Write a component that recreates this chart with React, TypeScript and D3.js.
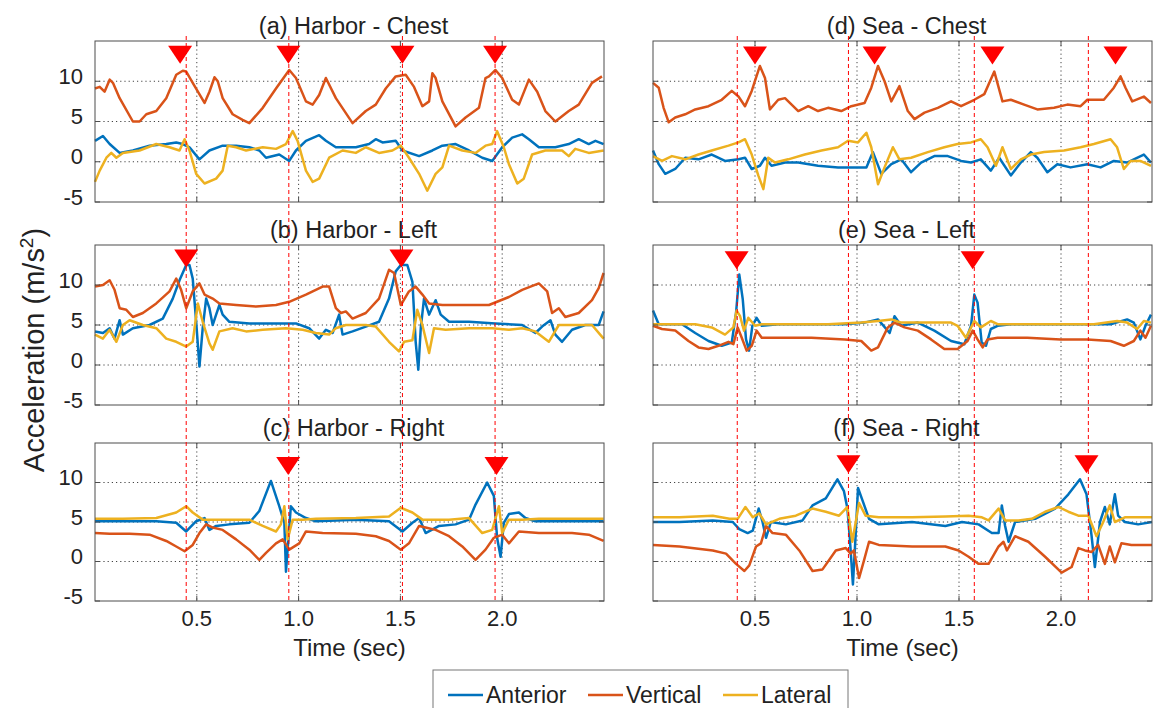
import React from 'react';
import * as d3 from 'd3';

type Pt = [number, number];

// series: [time (sec), acceleration (m/s^2)]
const harborChestAnterior: Pt[] = [[0,2.6],[0.039,3.2],[0.072,2.2],[0.121,1.1],[0.186,1.4],[0.268,2.0],[0.35,2.2],[0.399,2.4],[0.431,2.2],[0.464,1.8],[0.513,0.3],[0.562,1.4],[0.627,2.0],[0.693,2.0],[0.758,1.8],[0.807,1.4],[0.84,0.5],[0.905,0.9],[0.954,0.1],[0.987,1.4],[1.036,2.6],[1.101,3.3],[1.134,2.6],[1.183,1.8],[1.281,1.8],[1.346,2.2],[1.379,2.8],[1.412,2.4],[1.477,2.6],[1.51,1.4],[1.592,0.7],[1.657,1.4],[1.706,2.0],[1.771,2.2],[1.837,1.4],[1.902,0.5],[1.951,0.1],[2.0,1.8],[2.049,3.0],[2.098,3.4],[2.131,2.8],[2.18,1.8],[2.261,1.8],[2.327,2.2],[2.376,2.8],[2.425,2.2],[2.458,2.6],[2.498,2.2]];
const harborChestVertical: Pt[] = [[0,9.1],[0.023,9.3],[0.047,8.7],[0.072,10.2],[0.088,9.8],[0.121,7.9],[0.186,5.0],[0.219,5.0],[0.252,5.9],[0.301,6.3],[0.35,7.9],[0.399,10.8],[0.431,11.3],[0.448,11.2],[0.48,9.8],[0.538,7.3],[0.562,8.7],[0.587,10.5],[0.603,10.0],[0.627,7.9],[0.676,5.9],[0.725,5.2],[0.758,4.8],[0.824,6.7],[0.889,9.1],[0.954,11.4],[0.987,10.4],[1.036,7.5],[1.069,7.1],[1.101,8.3],[1.134,10.4],[1.183,7.9],[1.265,4.8],[1.33,6.3],[1.379,7.1],[1.428,9.1],[1.477,10.6],[1.526,10.8],[1.567,9.3],[1.608,6.9],[1.641,7.5],[1.657,11.0],[1.673,10.4],[1.706,7.5],[1.771,4.4],[1.82,5.5],[1.886,6.7],[1.918,10.4],[1.935,10.6],[1.967,11.4],[2.0,10.4],[2.049,7.7],[2.082,7.1],[2.131,10.2],[2.172,8.7],[2.212,6.3],[2.261,5.0],[2.327,6.3],[2.376,7.1],[2.441,9.8],[2.49,10.6]];
const harborChestLateral: Pt[] = [[0,-2.5],[0.023,-1.1],[0.056,0.5],[0.08,1.1],[0.105,0.5],[0.137,1.1],[0.219,1.4],[0.301,2.2],[0.366,1.8],[0.415,1.4],[0.44,2.8],[0.464,1.4],[0.497,-1.5],[0.538,-2.7],[0.595,-2.1],[0.627,-1.1],[0.652,2.0],[0.693,1.8],[0.742,1.4],[0.824,1.8],[0.889,1.6],[0.938,2.2],[0.971,3.8],[0.995,2.6],[1.036,-1.1],[1.069,-2.5],[1.101,-2.1],[1.15,0.5],[1.216,1.4],[1.281,1.1],[1.33,1.8],[1.395,1.1],[1.461,1.4],[1.502,2.0],[1.542,0.5],[1.592,-1.5],[1.632,-3.6],[1.673,-1.5],[1.706,-0.7],[1.739,2.0],[1.804,1.4],[1.869,1.1],[1.918,2.0],[1.951,2.2],[1.975,3.8],[2.008,1.8],[2.033,-0.3],[2.074,-2.7],[2.106,-2.1],[2.147,0.9],[2.212,1.4],[2.294,1.4],[2.327,0.7],[2.359,1.6],[2.425,1.1],[2.498,1.4]];

const harborLeftAnterior: Pt[] = [[0,4.2],[0.039,4.0],[0.072,4.6],[0.096,3.3],[0.121,5.6],[0.137,3.8],[0.186,4.6],[0.268,5.0],[0.333,5.8],[0.382,8.3],[0.415,10.6],[0.448,12.5],[0.464,12.5],[0.48,10.8],[0.497,5.4],[0.513,-0.2],[0.529,4.6],[0.546,8.3],[0.562,7.1],[0.578,5.0],[0.595,6.3],[0.611,7.5],[0.627,6.3],[0.66,5.4],[0.758,5.2],[0.889,5.2],[0.987,5.2],[1.052,4.6],[1.101,3.3],[1.134,4.4],[1.167,4.0],[1.199,6.3],[1.216,3.8],[1.265,4.2],[1.33,4.8],[1.395,5.4],[1.444,8.3],[1.477,11.7],[1.502,12.5],[1.534,12.5],[1.559,10.4],[1.575,2.9],[1.588,-0.6],[1.6,4.6],[1.616,8.3],[1.641,6.3],[1.673,8.1],[1.698,6.3],[1.739,5.4],[1.837,5.4],[1.967,5.2],[2.098,5.0],[2.163,4.0],[2.196,4.8],[2.237,5.6],[2.261,3.8],[2.294,2.9],[2.343,4.4],[2.408,5.0],[2.474,5.0],[2.498,6.7]];
const harborLeftVertical: Pt[] = [[0,9.8],[0.039,10.0],[0.072,10.6],[0.096,9.4],[0.121,7.1],[0.154,6.9],[0.186,6.0],[0.235,6.5],[0.301,7.7],[0.366,9.2],[0.399,10.8],[0.423,9.4],[0.448,7.1],[0.48,9.2],[0.513,10.2],[0.538,8.8],[0.578,8.3],[0.611,7.7],[0.693,7.5],[0.791,7.3],[0.889,7.5],[0.954,7.9],[1.036,8.8],[1.118,9.8],[1.15,9.8],[1.183,7.1],[1.208,6.5],[1.232,6.7],[1.265,5.8],[1.33,6.5],[1.395,8.3],[1.444,11.9],[1.469,11.5],[1.502,7.5],[1.542,9.2],[1.575,9.8],[1.608,8.8],[1.641,7.7],[1.706,7.5],[1.804,7.5],[1.935,7.5],[2.033,8.5],[2.098,9.4],[2.18,10.2],[2.221,9.2],[2.245,6.5],[2.278,7.1],[2.31,6.0],[2.376,6.5],[2.441,8.1],[2.474,9.6],[2.498,11.5]];
const harborLeftLateral: Pt[] = [[0,3.8],[0.039,3.3],[0.072,4.4],[0.105,2.9],[0.137,5.0],[0.17,5.6],[0.235,5.0],[0.301,4.6],[0.35,3.3],[0.399,2.9],[0.448,2.3],[0.48,2.9],[0.505,7.7],[0.529,5.4],[0.562,2.7],[0.578,1.9],[0.611,4.2],[0.676,4.6],[0.742,4.2],[0.824,4.4],[0.938,4.6],[1.02,4.4],[1.085,4.0],[1.15,3.8],[1.183,4.6],[1.232,5.0],[1.33,5.0],[1.379,4.8],[1.444,2.9],[1.493,1.7],[1.518,2.9],[1.559,3.1],[1.583,6.9],[1.608,5.0],[1.641,1.5],[1.665,4.6],[1.722,4.4],[1.837,4.6],[1.951,4.6],[2.033,4.4],[2.098,4.6],[2.163,4.2],[2.229,2.9],[2.278,5.0],[2.343,5.0],[2.441,5.0],[2.498,3.3]];

const harborRightAnterior: Pt[] = [[0,5.1],[0.137,5.1],[0.301,5.1],[0.399,4.9],[0.448,3.8],[0.497,5.1],[0.538,5.5],[0.562,4.0],[0.595,4.5],[0.66,4.7],[0.758,4.9],[0.807,6.4],[0.864,10.2],[0.905,7.0],[0.93,4.9],[0.938,-1.3],[0.951,3.2],[0.962,7.0],[0.987,6.2],[1.036,5.5],[1.085,5.1],[1.281,5.3],[1.444,5.1],[1.51,3.8],[1.559,4.9],[1.592,5.5],[1.624,3.6],[1.69,4.5],[1.771,4.7],[1.837,5.3],[1.869,7.2],[1.926,10.0],[1.959,8.3],[1.975,3.0],[1.992,0.6],[2.008,4.9],[2.033,6.0],[2.082,6.2],[2.114,5.5],[2.163,5.1],[2.343,5.1],[2.498,5.1]];
const harborRightVertical: Pt[] = [[0,3.6],[0.072,3.5],[0.17,3.5],[0.268,3.4],[0.35,2.6],[0.399,1.9],[0.44,1.3],[0.48,2.1],[0.513,3.6],[0.546,4.7],[0.578,4.3],[0.627,4.0],[0.693,2.8],[0.758,1.5],[0.807,0.2],[0.84,1.1],[0.889,2.3],[0.922,2.8],[0.954,1.5],[1.003,2.3],[1.036,3.8],[1.118,3.6],[1.281,3.5],[1.379,3.2],[1.444,2.6],[1.502,1.5],[1.542,2.3],[1.592,4.5],[1.624,4.3],[1.673,4.0],[1.739,3.2],[1.804,1.9],[1.869,0.2],[1.918,1.5],[1.959,3.0],[2.0,3.4],[2.033,2.3],[2.082,3.8],[2.18,3.6],[2.343,3.6],[2.425,3.4],[2.498,2.6]];
const harborRightLateral: Pt[] = [[0,5.4],[0.137,5.4],[0.301,5.5],[0.399,6.2],[0.448,7.0],[0.48,6.2],[0.529,5.3],[0.627,5.3],[0.758,5.3],[0.824,4.5],[0.889,3.8],[0.913,4.7],[0.93,7.0],[0.946,2.8],[0.971,5.3],[1.02,5.3],[1.085,5.4],[1.281,5.5],[1.444,5.7],[1.502,6.8],[1.559,6.2],[1.608,5.3],[1.739,5.3],[1.837,5.5],[1.902,3.6],[1.951,4.0],[1.984,7.0],[2.0,3.6],[2.033,5.3],[2.098,5.3],[2.18,5.4],[2.343,5.4],[2.498,5.4]];

const seaChestAnterior: Pt[] = [[0,1.4],[0.028,-0.3],[0.06,-1.5],[0.109,-0.9],[0.158,0.5],[0.223,0.3],[0.288,0.9],[0.353,0.1],[0.419,0.3],[0.451,0.5],[0.484,-0.9],[0.524,-0.5],[0.549,0.5],[0.581,-0.5],[0.647,-0.1],[0.712,-0.1],[0.809,-0.5],[0.907,-0.7],[0.989,-0.7],[1.046,-0.7],[1.078,1.2],[1.119,-1.5],[1.168,-0.3],[1.217,0.3],[1.265,-1.3],[1.314,-0.1],[1.379,0.7],[1.445,0.7],[1.51,0.1],[1.559,-0.1],[1.607,0.3],[1.656,-1.1],[1.697,0.5],[1.754,-1.7],[1.803,-0.1],[1.852,1.2],[1.884,0.5],[1.933,-1.3],[1.982,-0.3],[2.047,-0.7],[2.129,-0.3],[2.194,-0.7],[2.259,0.1],[2.324,-0.1],[2.357,0.3],[2.406,0.9],[2.441,-0.1]];
const seaChestVertical: Pt[] = [[0,9.8],[0.028,9.2],[0.052,6.7],[0.077,4.9],[0.109,5.5],[0.158,5.9],[0.207,6.5],[0.272,6.9],[0.337,7.7],[0.386,8.8],[0.419,8.1],[0.451,6.9],[0.484,8.8],[0.524,11.9],[0.549,10.4],[0.573,6.5],[0.614,7.7],[0.647,7.9],[0.712,6.3],[0.761,6.9],[0.809,6.3],[0.858,6.7],[0.923,6.3],[0.972,6.9],[1.037,7.3],[1.07,9.2],[1.103,11.9],[1.135,10.0],[1.168,7.5],[1.208,9.4],[1.249,6.3],[1.282,5.3],[1.331,6.1],[1.396,6.7],[1.461,7.5],[1.51,6.9],[1.575,7.7],[1.624,8.4],[1.673,11.2],[1.713,7.5],[1.754,7.7],[1.819,7.1],[1.884,6.5],[1.966,6.7],[2.031,7.1],[2.096,6.9],[2.129,7.7],[2.21,7.7],[2.259,9.2],[2.292,10.6],[2.316,9.2],[2.349,7.5],[2.406,8.1],[2.441,7.3]];
const seaChestLateral: Pt[] = [[0,0.7],[0.044,0.1],[0.093,0.7],[0.158,0.3],[0.223,0.9],[0.288,1.4],[0.37,2.0],[0.419,2.4],[0.451,2.8],[0.484,0.9],[0.516,-1.7],[0.541,-3.4],[0.565,0.5],[0.598,-0.1],[0.663,0.3],[0.744,0.9],[0.826,1.4],[0.907,1.8],[0.956,2.6],[1.005,2.4],[1.046,3.6],[1.07,1.8],[1.103,-2.8],[1.135,-0.7],[1.176,1.8],[1.208,0.3],[1.265,0.5],[1.347,1.2],[1.428,1.8],[1.493,2.2],[1.559,2.4],[1.607,2.8],[1.64,1.8],[1.681,-0.5],[1.713,1.8],[1.754,-0.9],[1.803,0.3],[1.852,0.9],[1.917,1.2],[2.015,1.4],[2.096,1.8],[2.161,2.2],[2.243,2.8],[2.275,1.8],[2.308,-0.9],[2.341,0.1],[2.389,0.1],[2.441,-0.5]];

const seaLeftAnterior: Pt[] = [[0,6.8],[0.028,5.1],[0.077,5.1],[0.142,5.1],[0.207,4.0],[0.272,3.0],[0.337,2.4],[0.386,2.8],[0.407,6.5],[0.423,11.3],[0.44,8.2],[0.456,3.2],[0.471,1.8],[0.487,4.9],[0.508,5.9],[0.533,4.9],[0.614,5.1],[0.777,5.1],[0.94,5.1],[1.037,5.3],[1.103,5.7],[1.16,4.0],[1.184,6.1],[1.217,4.9],[1.298,5.3],[1.379,4.3],[1.461,3.0],[1.526,2.6],[1.559,4.9],[1.575,8.8],[1.591,7.8],[1.611,2.8],[1.632,2.4],[1.656,4.5],[1.689,4.9],[1.754,5.1],[1.917,5.1],[2.08,5.1],[2.243,5.1],[2.324,5.7],[2.357,5.3],[2.389,3.2],[2.414,4.9],[2.441,6.3]];
const seaLeftVertical: Pt[] = [[0,4.9],[0.044,4.5],[0.109,4.3],[0.174,3.0],[0.223,2.2],[0.272,2.0],[0.321,2.4],[0.37,2.9],[0.394,2.6],[0.415,4.7],[0.435,3.4],[0.459,1.8],[0.484,2.4],[0.508,4.3],[0.533,3.4],[0.614,3.4],[0.777,3.4],[0.94,3.2],[1.021,3.0],[1.07,1.8],[1.103,2.2],[1.151,4.7],[1.184,5.3],[1.233,4.7],[1.298,4.3],[1.363,3.2],[1.428,2.0],[1.493,2.0],[1.542,3.0],[1.567,4.3],[1.591,3.2],[1.616,2.2],[1.64,3.2],[1.689,3.4],[1.835,3.4],[1.998,3.2],[2.129,3.2],[2.243,3.0],[2.308,2.4],[2.357,3.0],[2.389,4.3],[2.414,3.4],[2.441,4.9]];
const seaLeftLateral: Pt[] = [[0,5.1],[0.093,5.1],[0.207,5.1],[0.288,4.7],[0.353,3.8],[0.394,4.7],[0.41,6.8],[0.427,6.1],[0.446,4.3],[0.467,5.9],[0.5,4.9],[0.533,5.1],[0.695,5.1],[0.858,5.1],[1.021,5.3],[1.103,5.5],[1.168,5.7],[1.217,5.3],[1.347,5.3],[1.461,5.3],[1.493,4.9],[1.534,3.4],[1.575,5.5],[1.607,4.7],[1.656,5.5],[1.689,5.1],[1.835,5.1],[1.998,5.1],[2.161,5.1],[2.275,5.5],[2.324,5.3],[2.373,4.5],[2.406,5.5],[2.441,5.3]];

const seaRightAnterior: Pt[] = [[0,5.0],[0.13,5.0],[0.293,5.2],[0.391,5.0],[0.423,4.1],[0.464,3.6],[0.489,3.9],[0.518,6.7],[0.537,5.0],[0.554,3.0],[0.578,5.0],[0.651,4.7],[0.733,5.2],[0.782,7.1],[0.847,8.0],[0.904,10.4],[0.936,8.9],[0.953,6.7],[0.964,3.2],[0.98,-2.9],[0.993,3.2],[1.005,9.3],[1.026,7.8],[1.059,5.4],[1.107,4.7],[1.27,5.0],[1.433,4.5],[1.515,5.0],[1.596,4.7],[1.661,3.6],[1.694,3.6],[1.71,7.1],[1.726,4.5],[1.743,2.5],[1.775,5.0],[1.873,5.4],[1.971,6.7],[2.036,8.5],[2.093,10.4],[2.125,8.5],[2.15,3.2],[2.166,-0.7],[2.191,5.0],[2.215,6.9],[2.239,4.7],[2.264,8.5],[2.28,5.8],[2.313,5.0],[2.378,4.7],[2.446,5.0]];
const seaRightVertical: Pt[] = [[0,2.1],[0.13,1.9],[0.293,1.4],[0.358,1.0],[0.407,-0.3],[0.448,-1.2],[0.472,-0.5],[0.505,1.9],[0.529,2.3],[0.554,4.5],[0.586,3.6],[0.651,3.4],[0.717,1.4],[0.782,-1.2],[0.831,-1.0],[0.896,1.4],[0.945,1.7],[0.969,1.0],[0.985,1.4],[1.01,-2.1],[1.034,0.1],[1.059,2.5],[1.107,2.1],[1.27,1.9],[1.433,1.9],[1.498,1.4],[1.547,0.6],[1.596,-0.3],[1.645,-0.3],[1.694,1.9],[1.718,2.5],[1.735,1.4],[1.775,3.2],[1.84,2.5],[1.922,0.6],[2.003,-1.4],[2.052,-0.7],[2.085,1.7],[2.117,1.4],[2.15,1.2],[2.182,2.1],[2.215,-0.3],[2.239,1.9],[2.264,-0.1],[2.296,2.3],[2.345,2.1],[2.446,2.1]];
const seaRightLateral: Pt[] = [[0,5.6],[0.13,5.6],[0.293,5.8],[0.375,5.4],[0.415,5.4],[0.453,6.9],[0.489,5.6],[0.521,6.1],[0.554,4.7],[0.619,5.4],[0.7,5.8],[0.782,6.7],[0.847,6.3],[0.912,5.8],[0.953,6.9],[0.977,2.5],[1.01,7.4],[1.042,5.8],[1.107,5.6],[1.27,5.6],[1.433,5.7],[1.547,5.8],[1.612,5.6],[1.645,5.2],[1.694,6.7],[1.726,5.2],[1.792,5.2],[1.857,5.4],[1.922,6.3],[1.987,6.9],[2.036,6.3],[2.085,5.8],[2.134,5.8],[2.174,3.2],[2.207,5.0],[2.239,7.1],[2.264,5.0],[2.313,5.6],[2.446,5.6]];

// event markers (sec) and dashed reference lines per column
const harborChestPeaks = [0.418, 0.95, 1.51, 1.965];
const harborLeftPeaks = [0.448, 1.505];
const harborRightPeaks = [0.949, 1.972];
const seaChestPeaks = [0.5, 1.086, 1.664, 2.267];
const seaLeftPeaks = [0.41, 1.567];
const seaRightPeaks = [0.958, 2.125];
const harborDashes = [0.448, 0.952, 1.51, 1.965];
const seaDashes = [0.413, 0.958, 1.575, 2.134];

const yTicks = [-5, 0, 5, 10];
const xTicks = [0.5, 1.0, 1.5, 2.0];
const seriesNames = ['Anterior', 'Vertical', 'Lateral'];
const colors = ['#0072BD', '#D95319', '#EDB120'];

const FONT = '"Liberation Sans", Arial, Helvetica, sans-serif';
const cols = [
  { x0: 95, x1: 604, tMax: 2.5, dashes: harborDashes },
  { x0: 653, x1: 1152, tMax: 2.446, dashes: seaDashes },
];
const rows = [
  { top: 41, h: 161 },
  { top: 245, h: 160 },
  { top: 443, h: 158 },
];

const panels = [
  { title: '(a) Harbor - Chest', col: 0, row: 0, series: [harborChestAnterior, harborChestVertical, harborChestLateral], peaks: harborChestPeaks, level: 13.3 },
  { title: '(b) Harbor - Left', col: 0, row: 1, series: [harborLeftAnterior, harborLeftVertical, harborLeftLateral], peaks: harborLeftPeaks, level: 13.3 },
  { title: '(c) Harbor - Right', col: 0, row: 2, series: [harborRightAnterior, harborRightVertical, harborRightLateral], peaks: harborRightPeaks, level: 12.1 },
  { title: '(d) Sea - Chest', col: 1, row: 0, series: [seaChestAnterior, seaChestVertical, seaChestLateral], peaks: seaChestPeaks, level: 13.2 },
  { title: '(e) Sea - Left', col: 1, row: 1, series: [seaLeftAnterior, seaLeftVertical, seaLeftLateral], peaks: seaLeftPeaks, level: 13.1 },
  { title: '(f) Sea - Right', col: 1, row: 2, series: [seaRightAnterior, seaRightVertical, seaRightLateral], peaks: seaRightPeaks, level: 12.3 },
];

function Panel({ p }: { p: typeof panels[number] }) {
  const c = cols[p.col];
  const r = rows[p.row];
  const x = d3.scaleLinear().domain([0, c.tMax]).range([c.x0, c.x1]);
  const y = d3.scaleLinear().domain([-5, 15]).range([r.top + r.h, r.top]);
  const line = d3.line<Pt>().x(d => x(d[0])).y(d => y(d[1]));
  const fmt = d3.format('.1f');
  const bottom = r.top + r.h;
  return (
    <g>
      {/* grid */}
      {yTicks.filter(v => v > -5).map(v => (
        <line key={'gy' + v} x1={c.x0} x2={c.x1} y1={y(v)} y2={y(v)} stroke="#444" strokeWidth={1} strokeDasharray="1.2 3" />
      ))}
      {xTicks.map(t => (
        <line key={'gx' + t} x1={x(t)} x2={x(t)} y1={r.top} y2={bottom} stroke="#444" strokeWidth={1} strokeDasharray="1.2 3" />
      ))}
      {/* data */}
      {p.series.map((s, i) => (
        <path key={i} d={line(s) || ''} fill="none" stroke={colors[i]} strokeWidth={2.5} strokeLinejoin="round" />
      ))}
      {/* box + ticks */}
      <rect x={c.x0} y={r.top} width={c.x1 - c.x0} height={r.h} fill="none" stroke="#4d4d4d" strokeWidth={1} />
      {xTicks.map(t => (
        <g key={'tx' + t}>
          <line x1={x(t)} x2={x(t)} y1={bottom} y2={bottom - 5} stroke="#4d4d4d" />
          <line x1={x(t)} x2={x(t)} y1={r.top} y2={r.top + 5} stroke="#4d4d4d" />
        </g>
      ))}
      {yTicks.map(v => (
        <g key={'ty' + v}>
          <line x1={c.x0} x2={c.x0 + 5} y1={y(v)} y2={y(v)} stroke="#4d4d4d" />
          <line x1={c.x1} x2={c.x1 - 5} y1={y(v)} y2={y(v)} stroke="#4d4d4d" />
        </g>
      ))}
      {p.col === 0 && yTicks.map(v => (
        <text key={'ly' + v} x={c.x0 - 12} y={y(v) - 5} textAnchor="end" dominantBaseline="central" fontSize={22} fill="#222">{v}</text>
      ))}
      {p.row === 2 && xTicks.map(t => (
        <text key={'lx' + t} x={x(t)} y={bottom + 17} textAnchor="middle" dominantBaseline="central" fontSize={22} fill="#222">{fmt(t)}</text>
      ))}
      {p.row === 2 && (
        <text x={(c.x0 + c.x1) / 2} y={bottom + 55} textAnchor="middle" fontSize={24} fill="#222">Time (sec)</text>
      )}
      <text x={(c.x0 + c.x1) / 2 + 4} y={r.top - 7} textAnchor="middle" fontSize={23.5} fill="#222">{p.title}</text>
    </g>
  );
}

function Markers({ p }: { p: typeof panels[number] }) {
  const c = cols[p.col];
  const r = rows[p.row];
  const x = d3.scaleLinear().domain([0, c.tMax]).range([c.x0, c.x1]);
  const y = d3.scaleLinear().domain([-5, 15]).range([r.top + r.h, r.top]);
  return (
    <g>
      {p.peaks.map(t => {
        const cx = x(t), cy = y(p.level);
        return <path key={t} d={`M${cx - 12},${cy - 9}L${cx + 12},${cy - 9}L${cx},${cy + 9}Z`} fill="#ff0000" />;
      })}
    </g>
  );
}

export default function App() {
  const dashTop = 36;
  const dashBottom = rows[2].top + rows[2].h;
  return (
    <div style={{ position: 'fixed', left: 0, top: 0, background: '#fff' }}>
      <svg width={1153} height={708} style={{ display: 'block', fontFamily: FONT }}>
        <rect width={1153} height={708} fill="#fff" />
        {panels.map(p => <Panel key={p.title} p={p} />)}
        {cols.map((c, ci) => {
          const x = d3.scaleLinear().domain([0, c.tMax]).range([c.x0, c.x1]);
          return c.dashes.map(t => (
            <line key={ci + '-' + t} x1={x(t)} x2={x(t)} y1={dashTop} y2={dashBottom} stroke="#ff0000" strokeWidth={1} strokeDasharray="4 3" />
          ));
        })}
        {panels.map(p => <Markers key={'m' + p.title} p={p} />)}
        <text transform="translate(44,350) rotate(-90)" textAnchor="middle" fontSize={29} fill="#222">
          Acceleration (m/s<tspan dy={-11} fontSize={19}>2</tspan><tspan dy={11}>)</tspan>
        </text>
        {/* legend */}
        <rect x={433} y={670} width={415} height={50} fill="#fff" stroke="#777" strokeWidth={1} />
        {seriesNames.map((n, i) => {
          const lx = [448, 588, 723][i];
          return (
            <g key={n}>
              <line x1={lx} x2={lx + 35} y1={695} y2={695} stroke={colors[i]} strokeWidth={2.5} />
              <text x={lx + 38} y={695} dominantBaseline="central" fontSize={23} fill="#222">{n}</text>
            </g>
          );
        })}
      </svg>
    </div>
  );
}
